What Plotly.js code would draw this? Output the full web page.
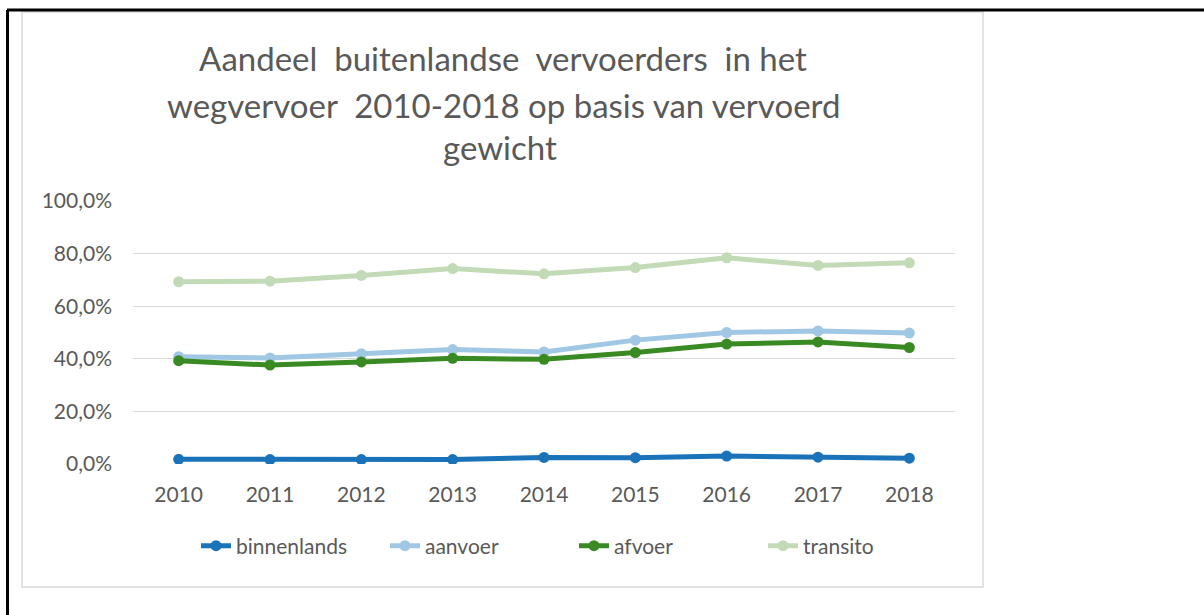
<!DOCTYPE html>
<html>
<head>
<meta charset="utf-8">
<script src="https://cdn.plot.ly/plotly-3.0.1.min.js"></script>
<style>
html,body{margin:0;padding:0;background:#fff;}
#chart{width:1204px;height:615px;}
</style>
</head>
<body>
<div id="chart"></div>
<script>
// ---- data ----
const years = ['2010','2011','2012','2013','2014','2015','2016','2017','2018'];
const binnenlands = [1.8, 1.7, 1.7, 1.7, 2.5, 2.4, 3.0, 2.6, 2.2];
const aanvoer     = [40.8, 40.3, 41.9, 43.5, 42.6, 47.1, 50.0, 50.6, 49.8];
const afvoer      = [39.3, 37.6, 38.8, 40.2, 39.8, 42.4, 45.6, 46.4, 44.3];
const transito    = [69.3, 69.5, 71.7, 74.3, 72.3, 74.7, 78.4, 75.5, 76.5];
const seriesNames = ['binnenlands','aanvoer','afvoer','transito'];
const seriesColors = ['#1a73b9','#a0c7e3','#3a8a24','#c3dab7'];
const yTickValues = [0, 20, 40, 60, 80, 100];
const yTickLabels = ['0,0%','20,0%','40,0%','60,0%','80,0%','100,0%'];
const titleLines = ['Aandeel  buitenlandse  vervoerders  in het',
                    'wegvervoer  2010-2018 op basis van vervoerd',
                    'gewicht'];

// ---- geometry helpers (pixel -> paper) ----
const L = 133, R = 955, T = 201, B = 464, W = 1204, H = 615;
const px = x => (x - L) / (R - L);
const py = y => (B - y) / (B - T);

const FONT = 'Lato, "Open Sans", sans-serif';
const GREY = '#595959';
const TSIZE = 33, LSIZE = 21;

const seriesData = [binnenlands, aanvoer, afvoer, transito];
const traces = seriesData.map((vals, i) => ({
  type: 'scatter',
  mode: 'lines+markers',
  name: seriesNames[i],
  x: years,
  y: vals,
  line: {color: seriesColors[i], width: 5},
  marker: {color: seriesColors[i], size: 11},
  hoverinfo: 'x+y+name'
}));

const layout = {
  width: W, height: H,
  paper_bgcolor: '#fff', plot_bgcolor: '#fff',
  margin: {l: L, r: W - R, t: T, b: H - B, pad: 0},
  separators: ',.',
  font: {family: FONT, color: GREY, size: LSIZE},
  title: {
    text: titleLines[0],
    font: {family: FONT, size: TSIZE, color: GREY},
    xref: 'paper', x: px(503), xanchor: 'center',
    yref: 'container', y: 1 - 59 / H, yanchor: 'middle'
  },
  annotations: [
    {text: titleLines[1], xref: 'paper', yref: 'paper', x: px(503), y: py(105),
     xanchor: 'center', yanchor: 'middle', showarrow: false,
     font: {family: FONT, size: TSIZE, color: GREY}},
    {text: titleLines[2], xref: 'paper', yref: 'paper', x: px(500), y: py(147),
     xanchor: 'center', yanchor: 'middle', showarrow: false,
     font: {family: FONT, size: TSIZE, color: GREY}}
  ],
  xaxis: {
    type: 'category',
    range: [-0.5, 8.5],
    showgrid: false, zeroline: false, showline: false,
    ticks: '', ticklabelstandoff: 16,
    tickfont: {family: FONT, size: LSIZE, color: GREY},
    fixedrange: true
  },
  yaxis: {
    range: [0, 100],
    tickvals: yTickValues,
    ticktext: yTickLabels,
    showgrid: true, gridcolor: '#d9d9d9', gridwidth: 1,
    zeroline: false, showline: false,
    ticks: '', ticklabelstandoff: 20,
    tickfont: {family: FONT, size: LSIZE, color: GREY},
    fixedrange: true
  },
  showlegend: true,
  legend: {
    orientation: 'h',
    x: px(196), xanchor: 'left',
    y: py(546), yanchor: 'middle',
    entrywidth: 144, entrywidthmode: 'pixels',
    font: {family: FONT, size: LSIZE, color: GREY},
    bgcolor: 'rgba(0,0,0,0)'
  },
  shapes: [
    // light grey chart frame
    {type: 'rect', xref: 'paper', yref: 'paper', layer: 'below',
     x0: px(22), x1: px(983), y0: py(587), y1: py(12),
     line: {color: '#d9d9d9', width: 1.5}, fillcolor: 'rgba(0,0,0,0)'},
    // black outer border (top and left)
    {type: 'line', xref: 'paper', yref: 'paper',
     x0: px(7), x1: px(1204), y0: py(10), y1: py(10),
     line: {color: '#000', width: 3}},
    {type: 'line', xref: 'paper', yref: 'paper',
     x0: px(7.5), x1: px(7.5), y0: py(10), y1: py(615),
     line: {color: '#000', width: 3}}
  ]
};

Plotly.newPlot('chart', traces, layout, {displayModeBar: false, staticPlot: true});
</script>
</body>
</html>
